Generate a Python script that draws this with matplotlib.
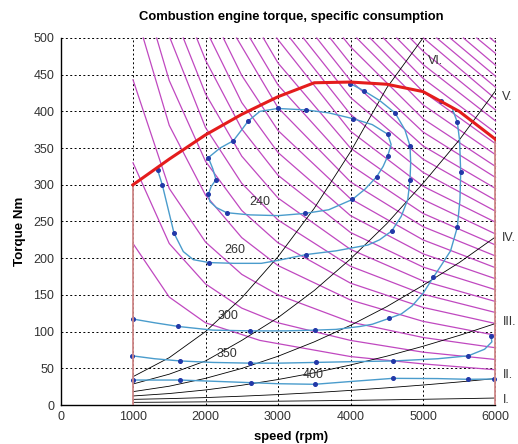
import matplotlib
matplotlib.use("Agg")
import matplotlib.pyplot as plt

plt.rcParams['font.family'] = ['Liberation Sans', 'DejaVu Sans']

# ---------------- data ----------------
# full-load (max torque) curve
max_n = [1000, 1500, 2000, 2500, 3000, 3500, 4000, 4500, 5000, 5500, 6000]
max_T = [300, 335, 368, 396, 420, 439, 440, 437, 427, 400, 362]

# gear road-load lines
gear_names = ["I.", "II.", "III.", "IV.", "V.", "VI."]
gear_n = [1000, 1500, 2000, 2500, 3000, 3500, 4000, 4500, 5000, 5500, 6000]
gear_T = {
    "I.":   [3.6, 3.9, 4.3, 4.7, 5.2, 5.7, 6.3, 7.0, 7.8, 8.6, 9.5],
    "II.":  [7.7, 8.7, 10.1, 12.0, 14.2, 16.8, 19.9, 23.4, 27.2, 31.4, 36.0],
    "III.": [12.3, 15.6, 20.5, 26.9, 34.7, 43.9, 54.5, 66.5, 80.0, 94.8, 111],
    "IV.":  [18.2, 25.6, 36.3, 49.8, 66.4, 86.0, 108.5, 134, 163, 194, 229],
    "V.":   [28.6, 42.0, 60.0, 88.0, 119, 156, 199, 247, 302, 361, 428],
    "VI.":  [38.6, 64.5, 100, 146, 202, 268, 345, 432, 500],
}
gear_label_pos = {"I.": (6100, 7), "II.": (6100, 41), "III.": (6100, 113),
                  "IV.": (6085, 228), "V.": (6085, 420), "VI.": (5070, 468)}

# specific consumption contours (g/kWh)
c240_n = [2039, 2200, 2384, 2500, 2590, 2750, 2996, 3386, 3700, 4039, 4300, 4513, 4560,
          4513, 4450, 4361, 4200, 4025, 3700, 3372, 3000, 2614, 2292, 2150, 2062, 2039,
          2080, 2145, 2100, 2039]
c240_T = [337, 350, 360, 375, 387, 400, 404, 402, 398, 390, 382, 369, 355,
          339, 325, 311, 294, 280, 266, 261, 258, 259, 262, 269, 277, 287,
          298, 307, 322, 337]
c240_mn = [2039, 2384, 2590, 2996, 3386, 4039, 4513, 4513, 4361, 4025, 3372, 2292, 2039, 2145]
c240_mT = [337, 360, 387, 404, 402, 390, 369, 339, 311, 280, 261, 262, 287, 307]

c260_n = [3993, 4186, 4400, 4614, 4750, 4821, 4830, 4821, 4790, 4700, 4568, 4400, 4241,
          3800, 3391, 3000, 2770, 2400, 2053, 1832, 1694, 1566, 1404, 1340]
c260_T = [438, 428, 415, 398, 375, 353, 330, 307, 280, 257, 237, 225, 218,
          210, 205, 197, 193, 193, 194, 198, 209, 234, 300, 320]
c260_mn = [1340, 1404, 1566, 2053, 3391, 4568, 4821, 4821, 4614, 4186, 3993]
c260_mT = [320, 300, 234, 194, 205, 237, 307, 353, 398, 428, 438]

c300_n = [5248, 5400, 5474, 5505, 5520, 5510, 5473, 5380, 5250, 5142, 5000, 4850, 4700,
          4531, 4300, 4131, 3800, 3510, 3100, 2614, 2100, 1625, 1300, 1005]
c300_T = [414, 405, 385, 360, 317, 280, 242, 210, 190, 174, 152, 135, 124,
          118, 110, 107, 103, 102, 101, 101, 102, 107, 112, 117]
c300_mn = [1005, 1625, 2614, 3510, 4531, 5142, 5473, 5520, 5474, 5248]
c300_mT = [117, 107, 101, 102, 118, 174, 242, 317, 385, 414]

c350_n = [990, 1300, 1653, 2100, 2618, 3000, 3520, 4000, 4590, 5200, 5625, 5850, 5950, 5938]
c350_T = [67, 63, 60, 58, 57, 57, 58, 59, 60, 63, 67, 76, 86, 94]
c350_mn = [990, 1653, 2618, 3520, 4590, 5625, 5938]
c350_mT = [67, 60, 57, 58, 60, 67, 94]

c400_n = [1000, 1653, 2200, 2632, 3000, 3506, 4000, 4582, 5200, 5625, 5983]
c400_T = [34, 34, 32, 30.4, 29, 28.2, 32, 36.3, 36, 35, 35.4]
c400_mn = [1000, 1653, 2632, 3506, 4582, 5625, 5983]
c400_mT = [34, 34, 30.4, 28.2, 36.3, 35, 35.4]

contour_labels = ["240", "260", "300", "350", "400"]
contour_label_n = [2750, 2400, 2310, 2290, 3480]
contour_label_T = [277, 211, 121, 69, 41]

# constant power lines (n rpm, T Nm)
power_lines = [
    [(1000, 220), (1500, 147), (2000, 112), (2750, 88), (4000, 66), (5000, 56), (6000, 48)],
    [(1000, 330), (1500, 220), (2000, 165), (2500, 132), (3000, 112), (4000, 88), (5000, 72), (6000, 62)],
    [(1000, 443), (1500, 295), (2000, 222), (2500, 178), (3000, 150), (4000, 113), (5000, 92), (6000, 78)],
    [(1142, 500), (1500, 381), (2000, 286), (2500, 228), (3000, 190), (4000, 143), (5000, 114), (6000, 95)],
    [(1326, 500), (1500, 442), (2000, 332), (2500, 265), (3000, 221), (4000, 166), (5000, 133), (6000, 111)],
    [(1510, 500), (2000, 378), (2500, 302), (3000, 252), (4000, 189), (5000, 151), (6000, 126)],
    [(1694, 500), (2000, 424), (2500, 339), (3000, 282), (4000, 212), (5000, 169), (6000, 141)],
    [(1878, 500), (2000, 470), (2500, 376), (3000, 313), (4000, 235), (5000, 188), (6000, 157)],
    [(2062, 500), (2500, 412), (3000, 344), (4000, 258), (5000, 206), (6000, 172)],
    [(2246, 500), (2500, 449), (3000, 374), (4000, 281), (5000, 225), (6000, 187)],
    [(2430, 500), (3000, 405), (4000, 304), (5000, 243), (6000, 203)],
    [(2614, 500), (3000, 436), (4000, 327), (5000, 261), (6000, 218)],
    [(2798, 500), (3000, 466), (4000, 350), (5000, 280), (6000, 233)],
    [(2982, 500), (4000, 373), (5000, 298), (6000, 249)],
    [(3166, 500), (4000, 396), (5000, 317), (6000, 264)],
    [(3350, 500), (4000, 419), (5000, 335), (6000, 279)],
    [(3534, 500), (4000, 442), (5000, 353), (6000, 295)],
    [(3718, 500), (4000, 465), (5000, 372), (6000, 310)],
    [(3902, 500), (4000, 488), (5000, 390), (6000, 325)],
    [(4086, 500), (5000, 409), (6000, 341)],
    [(4270, 500), (5000, 427), (6000, 356)],
    [(4454, 500), (5000, 445), (6000, 371)],
    [(4638, 500), (5000, 464), (6000, 387)],
    [(4822, 500), (5000, 482), (6000, 402)],
    [(5006, 500), (6000, 417)],
    [(5190, 500), (6000, 433)],
    [(5374, 500), (6000, 448)],
    [(5558, 500), (6000, 463)],
    [(5742, 500), (6000, 479)],
    [(5926, 500), (6000, 494)],
]

x_ticks = [0, 1000, 2000, 3000, 4000, 5000, 6000]
y_ticks = [0, 50, 100, 150, 200, 250, 300, 350, 400, 450, 500]

# ---------------- drawing ----------------
fig = plt.figure(figsize=(5.18, 4.44), dpi=100)
ax = fig.add_axes([60.5 / 518, 1 - 405 / 444, 435 / 518, 367 / 444])
ax.set_xlim(0, 6000)
ax.set_ylim(0, 500)
ax.set_xticks(x_ticks)
ax.set_yticks(y_ticks)
ax.tick_params(length=0, pad=4.5, labelsize=9, labelcolor='#333333')
ax.grid(True, linestyle=(0, (2, 2.5)), color='black', linewidth=0.7)
ax.set_axisbelow(True)
for s in ['top', 'right']:
    ax.spines[s].set_visible(False)
for s in ['left', 'bottom']:
    ax.spines[s].set_linewidth(1.0)

mag = '#c048c0'
for line in power_lines:
    xs = [p[0] for p in line]
    ys = [p[1] for p in line]
    ax.plot(xs, ys, color=mag, lw=0.9, zorder=2, clip_on=False)

for g in gear_names:
    ys = gear_T[g]
    ax.plot(gear_n[:len(ys)], ys, color='black', lw=0.6, zorder=3)
    lx, ly = gear_label_pos[g]
    ax.text(lx, ly, g, fontsize=9, color='#333333', ha='left', va='center', clip_on=False)

blue = '#4a9ccc'
mk = '#2238a8'
for cn, cT, mn, mT in [(c240_n, c240_T, c240_mn, c240_mT),
                       (c260_n, c260_T, c260_mn, c260_mT),
                       (c300_n, c300_T, c300_mn, c300_mT),
                       (c350_n, c350_T, c350_mn, c350_mT),
                       (c400_n, c400_T, c400_mn, c400_mT)]:
    ax.plot(cn, cT, color=blue, lw=1.0, zorder=4)
    ax.plot(mn, mT, linestyle='none', marker='o', markersize=2.6, color=mk, zorder=5)

for lab, lx, ly in zip(contour_labels, contour_label_n, contour_label_T):
    ax.text(lx, ly, lab, fontsize=9, color='#333333', ha='center', va='center', zorder=6)

# boundaries
ax.plot([max_n[0], max_n[0]], [0, max_T[0]], color='#d08888', lw=1.3, zorder=6)
ax.plot([max_n[-1], max_n[-1]], [0, max_T[-1]], color='#d08888', lw=1.3, zorder=6)
ax.plot(max_n, max_T, color='#e41c1c', lw=2.2, zorder=7)

fig.text(291 / 518, 1 - 17 / 444, 'Combustion engine torque, specific consumption',
         ha='center', va='center', fontsize=9.4, fontweight='bold')
fig.text(291 / 518, 1 - 437 / 444, 'speed (rpm)', ha='center', va='center',
         fontsize=9.4, fontweight='bold')
fig.text(20 / 518, 1 - 231 / 444, 'Torque Nm', ha='center', va='center', rotation=90,
         fontsize=9.6, fontweight='bold')

fig.savefig('out.png', dpi=100)
